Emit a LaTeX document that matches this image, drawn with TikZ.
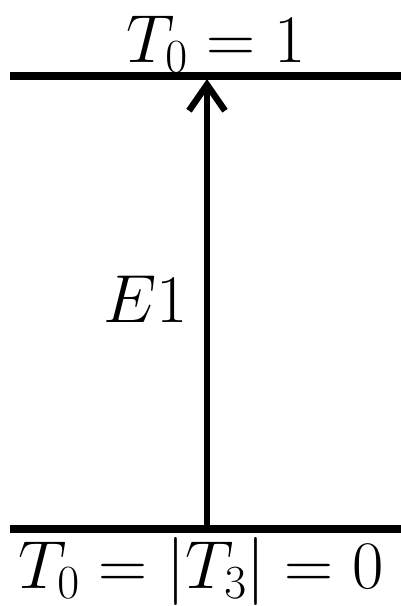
\RequirePackage{fix-cm}
\documentclass[tikz,border=0pt]{standalone}
\usetikzlibrary{arrows.meta}

\tikzset{
  level/.style={line width=8pt},
  trans/.style={line width=6.5pt, -{Straight Barb[length=26pt,width=36pt,line join=miter]}},
  lab/.style={inner sep=0pt, font=\fontsize{68}{76}\selectfont}
}

\begin{document}
\begin{tikzpicture}[x=1pt, y=-1pt]
  \useasboundingbox (0,0) rectangle (401,606);
  % energy levels
  \coordinate (upL) at (10,76);
  \coordinate (upR) at (401,76);
  \coordinate (loL) at (10,529);
  \coordinate (loR) at (401,529);
  \draw[level] (upL) -- (upR);
  \draw[level] (loL) -- (loR);
  % transition
  \coordinate (lo) at (207,529);
  \coordinate (hi) at (207,79);
  \draw[trans] (lo) -- (hi);
  % labels
  \node[lab, anchor=base] (upper) at (216,62) {$T_0 = 1$};
  \node[lab, anchor=base] (lower) at (201,588) {$T_0 = |T_3| = 0$};
  \node[lab, anchor=base east] (mult) at (188,322) {$E1$};
\end{tikzpicture}
\end{document}
